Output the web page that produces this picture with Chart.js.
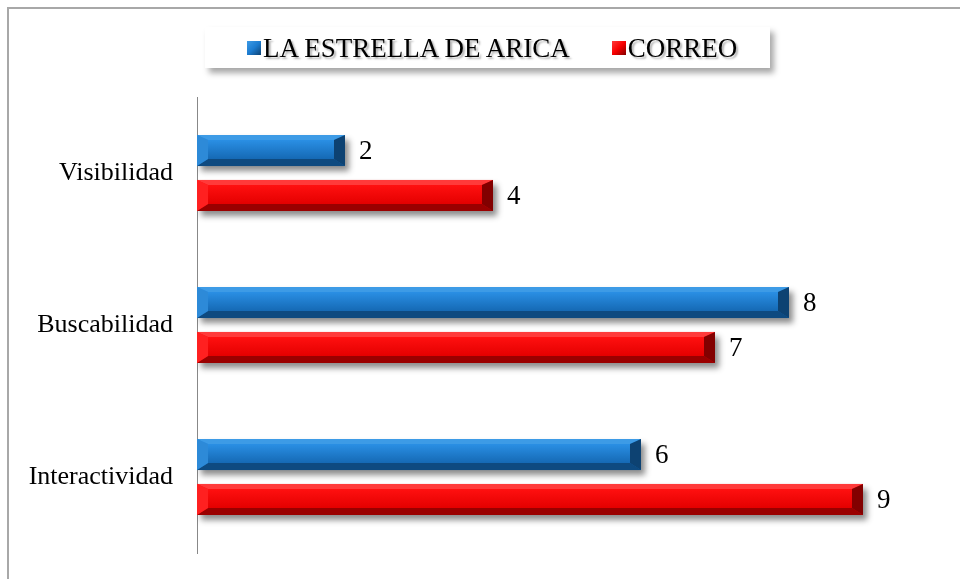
<!DOCTYPE html>
<html>
<head>
<meta charset="utf-8">
<script src="https://cdn.jsdelivr.net/npm/chart.js@4.4.1/dist/chart.umd.min.js"></script>
<style>
  html, body { margin: 0; padding: 0; background: #fff; }
  body { width: 960px; height: 579px; overflow: hidden; position: relative; font-family: "Liberation Serif", "Times New Roman", serif; }
  #frame { position: absolute; left: 7px; top: 7px; width: 951px; height: 570px; border-left: 2px solid #a8a8a8; border-top: 2px solid #a8a8a8; }
  #chart { position: absolute; left: 0; top: 0; }
  #legend { position: absolute; left: 205px; top: 27px; width: 523px; height: 41px; padding-left: 42px; background: #fff;
            box-shadow: 4px 5px 6px rgba(0,0,0,0.35); display: flex; align-items: center; gap: 42px; }
  .item { display: flex; align-items: center; font-size: 27px; line-height: 30px; color: #000; text-shadow: 2px 2px 2px rgba(0,0,0,0.3); }
  .mark { width: 14px; height: 14px; margin-right: 2px; }
</style>
</head>
<body>
<div id="frame"><canvas id="chart" width="951" height="570"></canvas></div>
<div id="legend"></div>
<script>
document.addEventListener('DOMContentLoaded', () => {
    const categories = ['Visibilidad', 'Buscabilidad', 'Interactividad'];
    const seriesNames = ['LA ESTRELLA DE ARICA', 'CORREO'];
    const estrellaValues = [2, 8, 6];
    const correoValues = [4, 7, 9];

    // colores de cada serie (cuerpo, bisel arriba/abajo/izq/der)
    const palettes = [
        { base: '#1c7cd0', top: '#3d9be6', midTop: '#2a8fe4', midBottom: '#1569b4', bottom: '#0e4a80', left: '#2d8ad8', right: '#0d4272' },
        { base: '#f80000', top: '#ff3a3a', midTop: '#ff1010', midBottom: '#e40000', bottom: '#9a0000', left: '#ff2020', right: '#820000' }
    ];

    // --- leyenda en HTML ---
    const legendEl = document.getElementById('legend');
    seriesNames.forEach((name, i) => {
        const p = palettes[i];
        const item = document.createElement('div');
        item.className = 'item';
        const mark = document.createElement('span');
        mark.className = 'mark';
        mark.style.background = `linear-gradient(135deg, ${p.top} 0%, ${p.base} 50%, ${p.right} 100%)`;
        const label = document.createElement('span');
        label.textContent = name;
        item.appendChild(mark);
        item.appendChild(label);
        legendEl.appendChild(item);
    });

    const bevelPlugin = {
        id: 'bevel',
        beforeDatasetsDraw(chart) {
            const ctx = chart.ctx;
            ctx.save();
            ctx.shadowColor = 'rgba(0,0,0,0.45)';
            ctx.shadowBlur = 6;
            ctx.shadowOffsetX = 4;
            ctx.shadowOffsetY = 5;
        },
        afterDatasetsDraw(chart) {
            const ctx = chart.ctx;
            ctx.restore();
            const poly = (pts, color) => {
                ctx.beginPath();
                ctx.moveTo(pts[0][0], pts[0][1]);
                for (let k = 1; k < pts.length; k++) ctx.lineTo(pts[k][0], pts[k][1]);
                ctx.closePath();
                ctx.fillStyle = color;
                ctx.fill();
            };
            chart.data.datasets.forEach((ds, di) => {
                const p = palettes[di];
                const meta = chart.getDatasetMeta(di);
                meta.data.forEach((bar, i) => {
                    const { x, y, base, height } = bar.getProps(['x', 'y', 'base', 'height'], true);
                    const x0 = base, x1 = x, y0 = y - height / 2, y1 = y + height / 2;
                    const bx = 11, bt = 5, bb = 7;
                    const g = ctx.createLinearGradient(0, y0 + bt, 0, y1 - bb);
                    g.addColorStop(0, p.midTop);
                    g.addColorStop(1, p.midBottom);
                    ctx.fillStyle = g;
                    ctx.fillRect(x0, y0, x1 - x0, y1 - y0);
                    poly([[x0, y0], [x1, y0], [x1 - bx, y0 + bt], [x0 + bx, y0 + bt]], p.top);
                    poly([[x0, y1], [x1, y1], [x1 - bx, y1 - bb], [x0 + bx, y1 - bb]], p.bottom);
                    poly([[x0, y0], [x0 + bx, y0 + bt], [x0 + bx, y1 - bb], [x0, y1]], p.left);
                    poly([[x1, y0], [x1 - bx, y0 + bt], [x1 - bx, y1 - bb], [x1, y1]], p.right);

                    // etiqueta del valor
                    ctx.fillStyle = '#000';
                    ctx.font = '27px "Liberation Serif", "Times New Roman", serif';
                    ctx.textAlign = 'left';
                    ctx.textBaseline = 'middle';
                    ctx.fillText(String(ds.data[i]), x1 + 14, y + 1);
                });
            });
        }
    };

    new Chart(document.getElementById('chart').getContext('2d'), {
        type: 'bar',
        data: {
            labels: categories,
            datasets: [
                { label: seriesNames[0], data: estrellaValues, backgroundColor: palettes[0].base },
                { label: seriesNames[1], data: correoValues, backgroundColor: palettes[1].base }
            ]
        },
        options: {
            indexAxis: 'y',
            responsive: false,
            animation: false,
            categoryPercentage: 0.59,
            barPercentage: 0.69,
            layout: { padding: { top: 88, right: 23, bottom: 26, left: 0 } },
            plugins: {
                legend: { display: false },
                tooltip: { enabled: false }
            },
            scales: {
                x: {
                    display: false,
                    min: 0,
                    max: 10
                },
                y: {
                    grid: { display: false },
                    border: { display: true, color: '#888888', width: 1 },
                    ticks: {
                        color: '#000',
                        padding: 16,
                        font: { family: '"Liberation Serif", "Times New Roman", serif', size: 26 }
                    },
                    afterFit(scale) {
                        scale.width = 188;
                        scale.paddingTop = 0;
                        scale.paddingBottom = 0;
                    }
                }
            }
        },
        plugins: [bevelPlugin]
    });
});
</script>
</body>
</html>
